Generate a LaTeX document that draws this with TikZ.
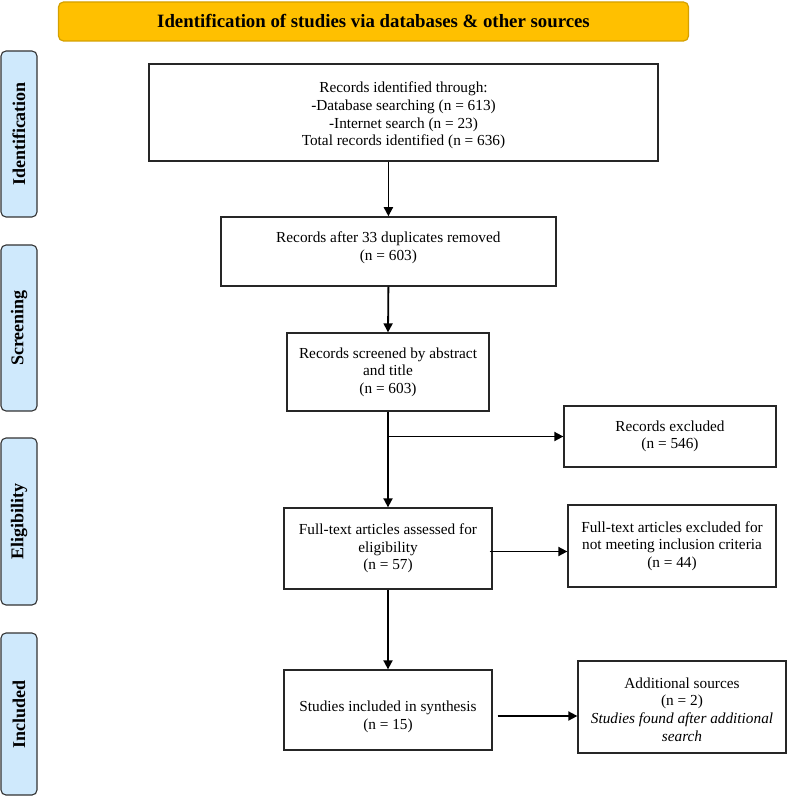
\documentclass[tikz,border=0pt]{standalone}
\usepackage{fontspec}
\setmainfont{Liberation Serif}
\usetikzlibrary{arrows.meta,calc}
\definecolor{gold}{HTML}{FFC000}
\definecolor{goldline}{HTML}{D4A000}
\definecolor{sideblue}{HTML}{CFE9FC}
\tikzset{
  box/.style={draw=black!85, line width=1.3pt, align=center, inner sep=0pt,
    font=\fontsize{15.3}{17.6}\selectfont},
  txt/.style={align=center, inner sep=0pt, font=\fontsize{15.3}{17.6}\selectfont},
  side/.style={draw=black!80, line width=1.1pt, fill=sideblue, rounded corners=5pt,
    minimum width=36pt, inner sep=0pt, font=\bfseries\fontsize{18}{20}\selectfont},
  banner/.style={draw=goldline, line width=1.2pt, fill=gold, rounded corners=5pt,
    inner sep=0pt, font=\bfseries\fontsize{18.8}{20}\selectfont},
  arr/.style={line width=1.8pt, -{Triangle[length=9pt,width=9pt]}}
}
\begin{document}
\begin{tikzpicture}[x=1pt,y=-1pt]
\useasboundingbox (0,0) rectangle (787,799);

% banner
\node[banner, minimum width=630pt, minimum height=39pt] (ban) at (373.5,21.5)
  {Identification of studies via databases \& other sources};

% side labels
\node[side, minimum height=166pt] (sid) at (19,134) {\rotatebox{90}{Identification}};
\node[side, minimum height=166pt] (sscr) at (19,328) {\rotatebox{90}{Screening}};
\node[side, minimum height=167pt] (selg) at (19,521.5) {\rotatebox{90}{Eligibility}};
\node[side, minimum height=162pt] (sinc) at (19,714) {\rotatebox{90}{Included}};

% boxes
\node[box, minimum width=509pt, minimum height=97pt] (b1) at (403.5,112.5) {};
\node[txt] (b1t) at (403.5,115.5)
  {Records identified through:\\-Database searching (n = 613)\\-Internet search (n = 23)\\Total records identified (n = 636)};
\node[box, minimum width=335pt, minimum height=69pt] (b2) at (388.4,251.4) {};
\node[txt] (b2t) at (388.4,248) {Records after 33 duplicates removed\\(n = 603)};
\node[box, minimum width=202pt, minimum height=78pt] (b3) at (388,372)
  {Records screened by abstract\\and title\\(n = 603)};
\node[box, minimum width=212pt, minimum height=61pt] (b4) at (670,436.5)
  {Records excluded\\(n = 546)};
\node[box, minimum width=208pt, minimum height=81pt] (b5) at (388,548.5)
  {Full-text articles assessed for\\eligibility\\(n = 57)};
\node[box, minimum width=208pt, minimum height=82pt] (b6) at (672,546)
  {Full-text articles excluded for\\not meeting inclusion criteria\\(n = 44)};
\node[box, minimum width=208pt, minimum height=80pt] (b7) at (388,710) {};
\node[txt] (b7t) at (388,717) {Studies included in synthesis\\(n = 15)};
\node[box, minimum width=208pt, minimum height=92pt] (b8) at (682,707) {};
\node[txt] (b8t) at (682,709.5)
  {Additional sources\\(n = 2)\\\textit{Studies found after additional}\\\textit{search}};

% connectors
\draw[arr] (b1.south -| b2.north) -- (b2.north);
\draw[arr] (b2.south) -- (b3.north);
\draw[arr] (b3.south) -- (b5.north);
\coordinate (brc) at (b3.south |- b4.west);
\draw[arr] (brc) -- (b4.west);
\draw[arr] ([xshift=-3pt,yshift=-3pt]b5.east) -- ([yshift=-3pt]b5.east -| b6.west);
\draw[arr] (b5.south) -- (b7.north);
\draw[arr] ([xshift=5pt,yshift=-6pt]b7.east) -- ([yshift=-6pt]b7.east -| b8.west);
\end{tikzpicture}
\end{document}
